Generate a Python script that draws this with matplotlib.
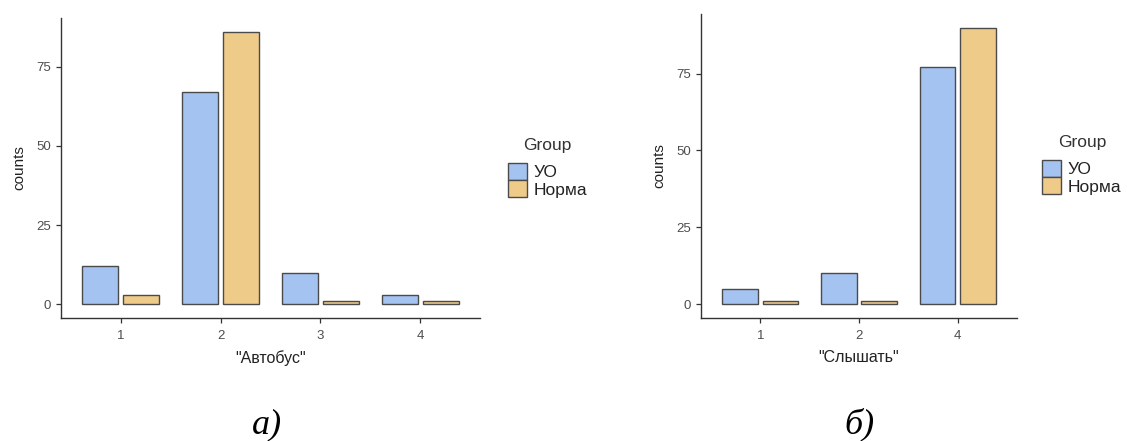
import numpy as np
import matplotlib.pyplot as plt
from matplotlib.patches import Patch

plt.rcParams['font.family'] = ['Liberation Sans', 'DejaVu Sans']

# data
groups = ['УО', 'Норма']
avtobus_cats = ['1', '2', '3', '4']
avtobus_uo = [12, 67, 10, 3]
avtobus_norma = [3, 86, 1, 1]
slyshat_cats = ['1', '2', '4']
slyshat_uo = [5, 10, 77]
slyshat_norma = [1, 1, 90]

col_uo = '#a4c3f0'
col_norma = '#efcb8a'
edge = '#4a4a4a'

fig = plt.figure(figsize=(11.27, 4.41), dpi=100)

def panel(rect, cats, uo, norma, xlabel, legend_pos):
    ax = fig.add_axes(rect)
    x = np.arange(1, len(cats) + 1)
    w = 0.36
    ax.bar(x - 0.205, uo, width=w, color=col_uo, edgecolor=edge, linewidth=1)
    ax.bar(x + 0.205, norma, width=w, color=col_norma, edgecolor=edge, linewidth=1)
    top = max(max(uo), max(norma))
    ax.set_ylim(-0.05 * top, top * 1.05)
    ax.set_xlim(0.4, len(cats) + 0.6)
    ax.set_xticks(x)
    ax.set_xticklabels(cats)
    ax.set_yticks([0, 25, 50, 75])
    for s in ['top', 'right']:
        ax.spines[s].set_visible(False)
    for s in ['left', 'bottom']:
        ax.spines[s].set_color('#333333')
        ax.spines[s].set_linewidth(1)
    ax.tick_params(colors='#333333', labelcolor='#4d4d4d', labelsize=9.5, length=3.5, width=0.9)
    ax.tick_params(axis='x', pad=5)
    ax.set_xlabel(xlabel, fontsize=11.5, color='#222222', labelpad=6)
    ax.set_ylabel('counts', fontsize=11, color='#222222', labelpad=7)
    handles = [Patch(facecolor=col_uo, edgecolor=edge), Patch(facecolor=col_norma, edgecolor=edge)]
    leg = fig.legend(handles, groups, title='Group', loc='upper left', bbox_to_anchor=legend_pos,
                     frameon=False, fontsize=12.5, title_fontsize=12.5, labelspacing=0.0,
                     handlelength=1.05, handleheight=1.15, handletextpad=0.4, borderaxespad=0,
                     borderpad=0)
    leg._legend_box.sep = 7
    leg.get_title().set_color('#333333')
    for t in leg.get_texts():
        t.set_color('#222222')
    return ax

panel([0.0541, 0.279, 0.3718, 0.68], avtobus_cats, avtobus_uo, avtobus_norma,
      '"Автобус"', (0.451, 0.687))
panel([0.622, 0.279, 0.2804, 0.690], slyshat_cats, slyshat_uo, slyshat_norma,
      '"Слышать"', (0.925, 0.694))

fig.text(0.237, 0.018, 'а)', fontsize=26, style='italic', family='Liberation Serif', ha='center')
fig.text(0.763, 0.018, 'б)', fontsize=26, style='italic', family='Liberation Serif', ha='center')

fig.savefig('out.png', dpi=100)
